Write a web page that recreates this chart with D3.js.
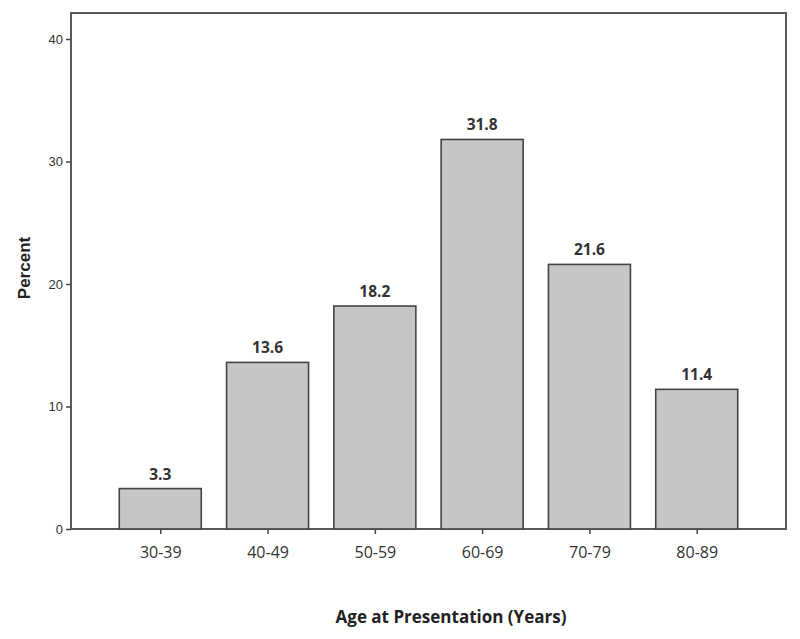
<!DOCTYPE html>
<html><head><meta charset="utf-8">
<script src="https://cdn.jsdelivr.net/npm/d3@7"></script>
<style>body{margin:0;background:#fff}</style>
</head><body>
<svg id="c" width="800" height="639"></svg>
<script>
const categories = ["30-39","40-49","50-59","60-69","70-79","80-89"];
const values = [3.3,13.6,18.2,31.8,21.6,11.4];
const yTicks = [0,10,20,30,40];

const svg = d3.select("#c");
const L=71, R=786, T=13, B=529;
const x = d3.scalePoint().domain(categories).range([L,R]).padding(0.832);
const y = d3.scaleLinear().domain([0,40]).range([B,39]);
const bw = 82;

// frame
svg.append("rect").attr("x",L).attr("y",T).attr("width",R-L).attr("height",B-T)
  .attr("fill","none").attr("stroke","#5a5a5a").attr("stroke-width",2);

// bars
svg.selectAll("rect.bar").data(values).join("rect").attr("class","bar")
  .attr("x",(d,i)=>x(categories[i])-bw/2).attr("width",bw)
  .attr("y",d=>y(d)).attr("height",d=>B-y(d))
  .attr("fill","#c6c6c6").attr("stroke","#444").attr("stroke-width",1.6);

// value labels
svg.selectAll("text.val").data(values).join("text").attr("class","val")
  .attr("x",(d,i)=>x(categories[i])).attr("y",d=>y(d)-9)
  .attr("text-anchor","middle").attr("font-family","Open Sans, sans-serif")
  .attr("font-weight","bold").attr("font-size",15.5).attr("fill","#333")
  .text(d=>d.toFixed(1));

// y axis
const ya = svg.append("g").attr("transform",`translate(${L},0)`)
  .call(d3.axisLeft(y).tickValues(yTicks).tickSize(5).tickPadding(3));
ya.select(".domain").remove();
ya.selectAll("line").attr("stroke","#444").attr("stroke-width",1.5);
ya.selectAll("text").attr("font-family","Liberation Sans, Arial, sans-serif").attr("font-size",13).attr("fill","#333");

// x axis
const xa = svg.append("g").attr("transform",`translate(0,${B})`)
  .call(d3.axisBottom(x).tickSize(5).tickPadding(13));
xa.select(".domain").remove();
xa.selectAll("line").attr("stroke","#444").attr("stroke-width",1.5);
xa.selectAll("text").attr("font-family","Open Sans, sans-serif").attr("font-size",16).attr("fill","#333");

// titles
svg.append("text").attr("x",451).attr("y",623).attr("text-anchor","middle")
  .attr("font-family","Open Sans, sans-serif").attr("font-weight","bold").attr("font-size",17).attr("fill","#222")
  .text("Age at Presentation (Years)");
svg.append("text").attr("transform","translate(30,268) rotate(-90)").attr("text-anchor","middle")
  .attr("font-family","Liberation Sans, Arial, sans-serif").attr("font-weight","bold").attr("font-size",17).attr("fill","#222")
  .text("Percent");
</script>
</body></html>
